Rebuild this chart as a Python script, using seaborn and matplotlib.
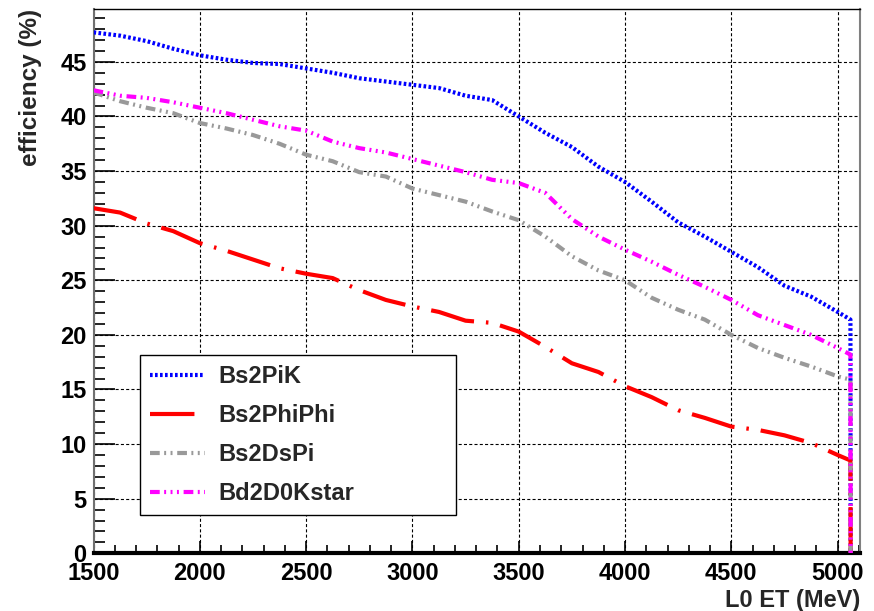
import numpy as np
import pandas as pd
import matplotlib
matplotlib.use("Agg")
import matplotlib.pyplot as plt
from matplotlib.ticker import MultipleLocator
import seaborn as sns

# ---- data ----
et = [1500, 1625, 1750, 1875, 2000, 2125, 2250, 2375, 2500, 2625, 2750, 2875,
      3000, 3125, 3250, 3375, 3500, 3625, 3750, 3875, 4000, 4125, 4250, 4375,
      4500, 4625, 4750, 4875, 5000, 5060, 5061]

bs2pik = [47.7, 47.4, 46.9, 46.2, 45.6, 45.2, 44.9, 44.8, 44.4, 44.0, 43.5, 43.2,
          42.9, 42.6, 41.9, 41.5, 40.0, 38.5, 37.2, 35.4, 34.0, 32.2, 30.3, 29.0,
          27.6, 26.2, 24.5, 23.5, 22.1, 21.4, 0.0]
bs2phiphi = [31.6, 31.2, 30.2, 29.5, 28.4, 27.7, 26.9, 26.1, 25.6, 25.2, 24.1, 23.2,
             22.6, 22.1, 21.3, 21.1, 20.3, 18.9, 17.4, 16.6, 15.3, 14.3, 13.1, 12.4,
             11.6, 11.3, 10.8, 10.1, 9.0, 8.5, 0.0]
bs2dspi = [42.2, 41.4, 40.8, 40.3, 39.4, 38.9, 38.3, 37.5, 36.5, 35.9, 34.9, 34.5,
           33.4, 32.8, 32.2, 31.3, 30.5, 29.0, 27.2, 25.9, 25.0, 23.4, 22.3, 21.4,
           20.0, 18.8, 17.9, 17.1, 16.2, 15.9, 0.0]
bd2d0kstar = [42.4, 41.9, 41.7, 41.3, 40.8, 40.3, 39.7, 39.1, 38.7, 37.7, 37.1, 36.7,
              36.1, 35.5, 34.9, 34.2, 33.9, 33.0, 30.6, 29.0, 27.8, 26.7, 25.5, 24.4,
              23.2, 21.8, 20.9, 20.0, 18.8, 18.2, 0.0]

names = ["Bs2PiK", "Bs2PhiPhi", "Bs2DsPi", "Bd2D0Kstar"]
series = [bs2pik, bs2phiphi, bs2dspi, bd2d0kstar]
colors = ["#0000ff", "#ff0000", "#999999", "#ff00ff"]

df = pd.concat([pd.DataFrame({"et": et, "eff": s, "sample": n})
                for n, s in zip(names, series)], ignore_index=True)

# ---- style ----
sns.set_style("ticks")
plt.rcParams["font.family"] = ["Liberation Sans", "DejaVu Sans"]
plt.rcParams["font.weight"] = "bold"
plt.rcParams["lines.scale_dashes"] = False

fig = plt.figure(figsize=(8.74, 6.11), dpi=100)
ax = fig.add_axes([93.5 / 874, 1 - 553.3 / 611, (860 - 93.5) / 874, (553.3 - 9) / 611])

dash_map = {
    "Bs2PiK": (1.9, 1.7),
    "Bs2PhiPhi": (32, 8.6, 1.8, 8.6),
    "Bs2DsPi": (7, 3.2, 1.4, 3.2, 1.4, 3.4),
    "Bd2D0Kstar": (7, 3.2, 1.4, 3.2, 1.4, 3.2, 1.4, 3.4),
}

sns.lineplot(data=df, x="et", y="eff", hue="sample", style="sample",
             palette=dict(zip(names, colors)), dashes=dash_map,
             estimator=None, sort=False, linewidth=3.0, ax=ax, zorder=3)

ax.set_xlim(1500, 5105)
ax.set_ylim(0, 49.84)

ax.xaxis.set_major_locator(MultipleLocator(500))
ax.xaxis.set_minor_locator(MultipleLocator(100))
ax.yaxis.set_major_locator(MultipleLocator(5))
ax.yaxis.set_minor_locator(MultipleLocator(1))

ax.grid(True, which="major", color="black", linestyle=(0, (2.2, 1.6)), linewidth=0.8, zorder=0)
ax.set_axisbelow(True)

ax.tick_params(axis="both", which="both", direction="in", colors="black",
               labelsize=17, width=1.2)
ax.tick_params(axis="y", which="major", length=15, pad=5)
ax.tick_params(axis="y", which="minor", length=8)
ax.tick_params(axis="x", which="major", length=9, pad=6)
ax.tick_params(axis="x", which="minor", length=6)
for lab in ax.get_xticklabels() + ax.get_yticklabels():
    lab.set_fontweight("bold")

ax.spines["bottom"].set_linewidth(3)
ax.spines["bottom"].set_color("black")
ax.spines["left"].set_linewidth(1.5)
ax.spines["left"].set_color("#707070")
ax.spines["top"].set_linewidth(1.0)
ax.spines["top"].set_color("black")
ax.spines["right"].set_linewidth(1.5)
ax.spines["right"].set_color("#808080")
ax.spines["top"].set_visible(True)
ax.spines["right"].set_visible(True)

ax.set_xlabel("L0 ET (MeV)", fontsize=17, fontweight="bold", loc="right")
ax.set_ylabel("efficiency (%)", fontsize=17.5, fontweight="bold", loc="top")
ax.xaxis.set_label_coords(1.0, -0.066)
ax.yaxis.set_label_coords(-0.067, 1.0)

handles, labels = ax.get_legend_handles_labels()
leg = ax.legend(handles, labels, loc="center",
                bbox_to_anchor=(140 / 874, 1 - 512.7 / 611, 316 / 874, 155.7 / 611),
                bbox_transform=fig.transFigure, mode="expand",
                fancybox=False, framealpha=1, edgecolor="black",
                prop={"family": ["Liberation Sans", "DejaVu Sans"], "weight": "bold", "size": 17},
                handlelength=2.33, handletextpad=0.55, labelspacing=0.68,
                borderpad=0.42, borderaxespad=0)
leg.get_frame().set_linewidth(1.0)
leg.set_zorder(5)

fig.savefig("out.png", dpi=100, facecolor="white")
